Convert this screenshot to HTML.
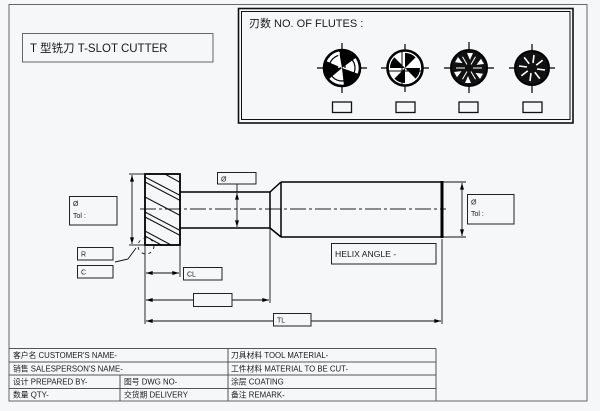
<!DOCTYPE html>
<html><head><meta charset="utf-8"><style>
html,body{margin:0;padding:0;background:#f6f7f9;}
svg{display:block;}
text{font-family:"Liberation Sans","Noto Sans CJK SC",sans-serif;fill:#1a1a1a;}
</style></head><body>
<svg width="600" height="411" viewBox="0 0 600 411" xmlns="http://www.w3.org/2000/svg">
<defs>
<marker id="ar" viewBox="0 0 10 6" refX="10" refY="3" markerWidth="7" markerHeight="4" orient="auto-start-reverse" markerUnits="userSpaceOnUse">
<path d="M0,0 L10,3 L0,6 Z" fill="#000"/>
</marker>
<clipPath id="hc"><rect x="145" y="174" width="35" height="71"/></clipPath>
</defs>
<rect width="600" height="411" fill="#f6f7f9"/>
<!-- outer border -->
<rect x="9" y="4.5" width="578" height="396.5" fill="none" stroke="#666" stroke-width="1"/>

<!-- title -->
<rect x="22.5" y="33.5" width="190.5" height="28.5" fill="none" stroke="#666" stroke-width="1"/>
<text x="30" y="52" font-size="11.5">T 型铣刀  T-SLOT CUTTER</text>

<!-- flutes box -->
<rect x="238.5" y="8.5" width="334.5" height="114.5" fill="none" stroke="#111" stroke-width="1.6"/>
<rect x="241.5" y="11.5" width="328.5" height="108" fill="none" stroke="#111" stroke-width="1"/>
<text x="249" y="27" font-size="11">刃数  NO. OF FLUTES :</text>

<!-- icon 1 -->
<g transform="translate(342,68)">
<line x1="-25" y1="0" x2="25" y2="0" stroke="#000" stroke-width="1.2"/>
<line x1="0" y1="-25" x2="0" y2="25" stroke="#000" stroke-width="1.2"/>
<circle r="18" fill="#fff" stroke="#000" stroke-width="2.6"/>
<circle r="13" fill="none" stroke="#000" stroke-width="1.2"/>
<g fill="#000">
<path d="M0,0 L-16,-7 A17,17 0 0 0 -13,11 Z"/>
<path d="M0,0 L-16,-7 A17,17 0 0 0 -13,11 Z" transform="rotate(120)"/>
<path d="M0,0 L-16,-7 A17,17 0 0 0 -13,11 Z" transform="rotate(240)"/>
</g>
<line x1="-3" y1="-16" x2="-3" y2="0" stroke="#fff" stroke-width="1.5"/>
<line x1="3" y1="-16" x2="3" y2="0" stroke="#000" stroke-width="1.2"/>
</g>
<!-- icon 2 -->
<g transform="translate(405,68)">
<line x1="-24" y1="0" x2="24" y2="0" stroke="#000" stroke-width="1.2"/>
<line x1="0" y1="-24" x2="0" y2="24" stroke="#000" stroke-width="1.2"/>
<circle r="17.5" fill="#fff" stroke="#000" stroke-width="2.6"/>
<g fill="#000">
<path d="M0,0 L-15,0 A15,15 0 0 1 -10.6,-10.6 Z"/>
<path d="M0,0 L-15,0 A15,15 0 0 1 -10.6,-10.6 Z" transform="rotate(90)"/>
<path d="M0,0 L-15,0 A15,15 0 0 1 -10.6,-10.6 Z" transform="rotate(180)"/>
<path d="M0,0 L-15,0 A15,15 0 0 1 -10.6,-10.6 Z" transform="rotate(270)"/>
</g>
<line x1="-3" y1="-16" x2="-3" y2="16" stroke="#000" stroke-width="1"/>
<line x1="-16" y1="3" x2="16" y2="3" stroke="#000" stroke-width="1"/>
</g>
<!-- icon 3 -->
<g transform="translate(469,68)">
<line x1="-25" y1="0" x2="25" y2="0" stroke="#000" stroke-width="1.2"/>
<line x1="0" y1="-26" x2="0" y2="25" stroke="#000" stroke-width="1.2"/>
<circle r="18" fill="#111" stroke="#000" stroke-width="2"/>
<g fill="#fff">
<path d="M-2,-15 L4,-15 L1,-8 Z"/>
<path d="M-2,-15 L4,-15 L1,-8 Z" transform="rotate(60)"/>
<path d="M-2,-15 L4,-15 L1,-8 Z" transform="rotate(120)"/>
<path d="M-2,-15 L4,-15 L1,-8 Z" transform="rotate(180)"/>
<path d="M-2,-15 L4,-15 L1,-8 Z" transform="rotate(240)"/>
<path d="M-2,-15 L4,-15 L1,-8 Z" transform="rotate(300)"/>
</g>
<g stroke="#fff" stroke-width="1">
<line x1="0" y1="-4" x2="0" y2="-13" transform="rotate(30)"/>
<line x1="0" y1="-4" x2="0" y2="-13" transform="rotate(90)"/>
<line x1="0" y1="-4" x2="0" y2="-13" transform="rotate(150)"/>
<line x1="0" y1="-4" x2="0" y2="-13" transform="rotate(210)"/>
<line x1="0" y1="-4" x2="0" y2="-13" transform="rotate(270)"/>
<line x1="0" y1="-4" x2="0" y2="-13" transform="rotate(330)"/>
</g>
</g>
<!-- icon 4 -->
<g transform="translate(532,68)">
<line x1="-23" y1="0" x2="23" y2="0" stroke="#000" stroke-width="1.2"/>
<line x1="0" y1="-24" x2="0" y2="25" stroke="#000" stroke-width="1.2"/>
<circle r="17" fill="#111" stroke="#000" stroke-width="2"/>
<g stroke="#fff" stroke-width="1.6">
<line x1="1" y1="-5" x2="2" y2="-13"/>
<line x1="1" y1="-5" x2="2" y2="-13" transform="rotate(45)"/>
<line x1="1" y1="-5" x2="2" y2="-13" transform="rotate(90)"/>
<line x1="1" y1="-5" x2="2" y2="-13" transform="rotate(135)"/>
<line x1="1" y1="-5" x2="2" y2="-13" transform="rotate(180)"/>
<line x1="1" y1="-5" x2="2" y2="-13" transform="rotate(225)"/>
<line x1="1" y1="-5" x2="2" y2="-13" transform="rotate(270)"/>
<line x1="1" y1="-5" x2="2" y2="-13" transform="rotate(315)"/>
</g>
</g>
<!-- small boxes -->
<g fill="none" stroke="#111" stroke-width="1.3">
<rect x="332.5" y="102" width="19" height="10.5"/>
<rect x="396" y="102" width="19" height="10.5"/>
<rect x="459" y="102" width="19" height="10.5"/>
<rect x="523" y="102" width="19" height="10.5"/>
</g>

<!-- centerline -->
<line x1="140" y1="209" x2="446" y2="209" stroke="#222" stroke-width="0.9" stroke-dasharray="16 3 3 3"/>

<!-- head -->
<g clip-path="url(#hc)" stroke="#111" stroke-width="1.1">
<line x1="163" y1="173" x2="183" y2="184"/>
<line x1="145" y1="177" x2="183" y2="197"/>
<line x1="145" y1="182" x2="183" y2="202"/>
<line x1="145" y1="197" x2="183" y2="217"/>
<line x1="145" y1="212" x2="183" y2="232"/>
<line x1="145" y1="217" x2="183" y2="237"/>
<line x1="145" y1="231" x2="173" y2="246"/>
<line x1="145" y1="236" x2="165" y2="247"/>
</g>
<rect x="145" y="174" width="35" height="71" fill="none" stroke="#000" stroke-width="1.8"/>
<!-- neck -->
<g stroke="#000" stroke-width="1.5" fill="none">
<line x1="180" y1="192" x2="270" y2="192"/>
<line x1="180" y1="228" x2="270" y2="228"/>
<line x1="270" y1="192" x2="270" y2="228"/>
<line x1="270" y1="192" x2="281" y2="182"/>
<line x1="270" y1="228" x2="281" y2="237"/>
<line x1="281" y1="182" x2="442" y2="182"/>
<line x1="281" y1="237" x2="442" y2="237"/>
<line x1="281" y1="182" x2="281" y2="237"/>
</g>
<line x1="442" y1="181" x2="442" y2="238" stroke="#000" stroke-width="3"/>

<!-- dimension lines -->
<g stroke="#111" stroke-width="0.9" fill="none">
<!-- left dia -->
<line x1="129" y1="174" x2="145" y2="174"/>
<line x1="129" y1="245" x2="145" y2="245"/>
<line x1="132" y1="175" x2="132" y2="244" marker-start="url(#ar)" marker-end="url(#ar)"/>
<!-- neck dia -->
<line x1="237" y1="184" x2="237" y2="192" />
<line x1="237" y1="193" x2="237" y2="227" marker-start="url(#ar)" marker-end="url(#ar)"/>
<!-- right dia -->
<line x1="443" y1="182" x2="466" y2="182"/>
<line x1="443" y1="237" x2="466" y2="237"/>
<line x1="462" y1="183" x2="462" y2="236" marker-start="url(#ar)" marker-end="url(#ar)"/>
<!-- extension lines -->
<line x1="145" y1="246" x2="145" y2="324"/>
<line x1="180" y1="246" x2="180" y2="277"/>
<line x1="270" y1="229" x2="270" y2="303"/>
<line x1="442" y1="239" x2="442" y2="324"/>
<!-- CL -->
<line x1="146" y1="273" x2="179" y2="273" marker-start="url(#ar)" marker-end="url(#ar)"/>
<!-- neck length -->
<line x1="146" y1="300" x2="269" y2="300" marker-start="url(#ar)" marker-end="url(#ar)"/>
<!-- TL -->
<line x1="146" y1="321" x2="441" y2="321" marker-start="url(#ar)" marker-end="url(#ar)"/>
<!-- dashed corner -->
<circle cx="146" cy="246" r="8" stroke-dasharray="3 4"/>
<!-- leader -->
<polyline points="115,262 128,259 136,248"/>
</g>

<!-- label boxes -->
<g fill="#f6f7f9" stroke="#222" stroke-width="1">
<rect x="69.5" y="196.5" width="47.5" height="28.5"/>
<rect x="217.5" y="172.5" width="38.5" height="11.5"/>
<rect x="77.5" y="247.5" width="35.5" height="12.5"/>
<rect x="77.5" y="265.5" width="35.5" height="12.5"/>
<rect x="183.5" y="267.5" width="38.5" height="12.5"/>
<rect x="193.5" y="293.5" width="38.5" height="13"/>
<rect x="273.5" y="313.5" width="37.5" height="12.5"/>
<rect x="331.5" y="243.5" width="104.5" height="20.5"/>
<rect x="467.5" y="194.5" width="46.5" height="29.5"/>
</g>
<g font-size="7">
<text x="73" y="206">Ø</text>
<text x="73" y="218">Tol :</text>
<text x="221" y="181.5">Ø</text>
<text x="81" y="256.5">R</text>
<text x="81" y="274.5">C</text>
<text x="187" y="276.5">CL</text>
<text x="277" y="322.5">TL</text>
<text x="471" y="204.5">Ø</text>
<text x="471" y="216">Tol :</text>
</g>
<text x="335" y="257" font-size="8.6">HELIX ANGLE -</text>

<!-- table -->
<g stroke="#555" stroke-width="1" fill="none">
<line x1="9" y1="348.5" x2="436" y2="348.5"/>
<line x1="9" y1="362" x2="436" y2="362"/>
<line x1="9" y1="375" x2="436" y2="375"/>
<line x1="9" y1="388.5" x2="436" y2="388.5"/>
<line x1="436" y1="348.5" x2="436" y2="401"/>
<line x1="228" y1="348.5" x2="228" y2="401"/>
<line x1="120" y1="375" x2="120" y2="401"/>
</g>
<g font-size="7.8">
<text x="13" y="358">客户名 CUSTOMER'S NAME-</text>
<text x="13" y="371.5">销售 SALESPERSON'S NAME-</text>
<text x="13" y="384.5">设计 PREPARED BY-</text>
<text x="13" y="397.5">数量 QTY-</text>
<text x="124" y="384.5">图号 DWG NO-</text>
<text x="124" y="397.5">交货期 DELIVERY</text>
<text x="231" y="358">刀具材料 TOOL MATERIAL-</text>
<text x="231" y="371.5">工件材料 MATERIAL TO BE CUT-</text>
<text x="231" y="384.5">涂层 COATING</text>
<text x="231" y="397.5">备注 REMARK-</text>
</g>
</svg>
</body></html>
